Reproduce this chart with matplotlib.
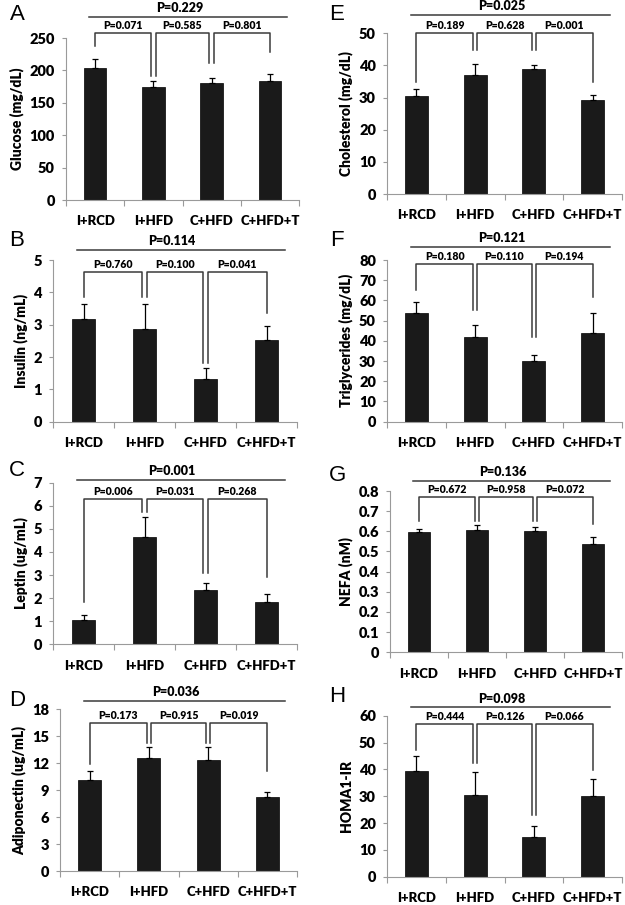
import matplotlib
matplotlib.use("Agg")
import matplotlib.pyplot as plt
from matplotlib.ticker import MultipleLocator, FuncFormatter

plt.rcParams["font.family"] = ["Lato", "DejaVu Sans"]

groups = ["I+RCD", "I+HFD", "C+HFD", "C+HFD+T"]

# means and upper error bars
glucose = [204, 174, 181, 184]
glucose_err = [13, 10, 8, 10]
insulin = [3.17, 2.86, 1.32, 2.53]
insulin_err = [0.46, 0.78, 0.33, 0.43]
leptin = [1.05, 4.63, 2.35, 1.82]
leptin_err = [0.22, 0.90, 0.29, 0.34]
adiponectin = [10.1, 12.6, 12.4, 8.2]
adiponectin_err = [1.0, 1.2, 1.4, 0.55]
cholesterol = [30.4, 36.9, 38.9, 29.1]
cholesterol_err = [2.4, 3.6, 1.3, 1.7]
triglycerides = [53.8, 41.8, 29.8, 43.8]
triglycerides_err = [5.2, 6.1, 3.0, 9.8]
nefa = [0.595, 0.607, 0.603, 0.539]
nefa_err = [0.015, 0.022, 0.016, 0.035]
homa = [39.4, 30.5, 14.9, 30.2]
homa_err = [5.7, 8.6, 4.1, 6.3]

# pairwise p-values (neighbouring groups) and overall p-value
p_glucose = ["0.071", "0.585", "0.801"]
p_insulin = ["0.760", "0.100", "0.041"]
p_leptin = ["0.006", "0.031", "0.268"]
p_adiponectin = ["0.173", "0.915", "0.019"]
p_cholesterol = ["0.189", "0.628", "0.001"]
p_triglycerides = ["0.180", "0.110", "0.194"]
p_nefa = ["0.672", "0.958", "0.072"]
p_homa = ["0.444", "0.126", "0.066"]
p_overall = ["0.229", "0.114", "0.001", "0.036", "0.025", "0.121", "0.136", "0.098"]

W, H = 625, 905


def rect(left, right, top, bottom):
    return [left / W, 1 - bottom / H, (right - left) / W, (bottom - top) / H]


# panel: letter, values, errors, p-values, ylabel, ymax, ystep, bracket top, leg ends, overall line,
# axes rect (px), letter position (px)
panels = [
    ("A", glucose, glucose_err, p_glucose, "Glucose (mg/dL)", 250, 50, 257, [237, 191, 211, 229], 282,
     rect(66, 299, 38, 200), (17, 15)),
    ("B", insulin, insulin_err, p_insulin, "Insulin (ng/mL)", 5, 1, 4.64, [3.87, 3.87, 1.8, 3.35], 5.31,
     rect(53, 297, 260, 421.7), (17, 240)),
    ("C", leptin, leptin_err, p_leptin, "Leptin (ug/mL)", 7, 1, 6.28, [1.85, 5.74, 3.07, 2.93], 7.11,
     rect(53, 297, 482.7, 644.3), (17, 470)),
    ("D", adiponectin, adiponectin_err, p_adiponectin, "Adiponectin (ug/mL)", 18, 3, 16.5,
     [11.9, 14.2, 14.2, 11.1], 18.93, rect(60, 297, 709.3, 871), (17, 700)),
    ("E", cholesterol, cholesterol_err, p_cholesterol, "Cholesterol (mg/dL)", 50, 10, 50,
     [35, 44.8, 44.8, 35], 55.7, rect(387, 622, 33.3, 194), (337, 15)),
    ("F", triglycerides, triglycerides_err, p_triglycerides, "Triglycerides (mg/dL)", 80, 10, 77.9,
     [65.2, 55.3, 42, 61.9], 86.6, rect(387, 622, 260, 421.7), (337, 240)),
    ("G", nefa, nefa_err, p_nefa, "NEFA (nM)", 0.8, 0.1, 0.772, [0.653, 0.653, 0.653, 0.636], 0.851,
     rect(390, 622, 491, 652.3), (337, 475)),
    ("H", homa, homa_err, p_homa, "HOMA1-IR", 60, 10, 56.8, [47.2, 42.2, 23, 39.8], 63.1,
     rect(387, 622, 715.7, 876.7), (337, 697)),
]

fig = plt.figure(figsize=(W / 100, H / 100), dpi=100)
line_col = "#3a3a3a"
axis_col = "#9a9a9a"

for i, (letter, vals, errs, pvals, ylabel, ymax, ystep, top, legs, overall, r, lpos) in enumerate(panels):
    ax = fig.add_axes(r)
    x = list(range(len(groups)))
    ax.bar(x, vals, width=0.39, color="#1a1a1a", edgecolor="black", linewidth=0.5, zorder=2)
    ax.errorbar(x, vals, yerr=[[0] * len(errs), errs], fmt="none", ecolor="black",
                elinewidth=0.9, capsize=2.2, capthick=0.9, zorder=3)

    ax.set_xlim(-0.5, 3.5)
    ax.set_ylim(0, ymax)
    ax.yaxis.set_major_locator(MultipleLocator(ystep))
    ax.yaxis.set_major_formatter(FuncFormatter(lambda v, pos: "%g" % round(v, 3)))
    ax.set_xticks(x)
    ax.set_xticklabels(groups)
    ax.set_xticks([-0.5, 0.5, 1.5, 2.5, 3.5], minor=True)
    ax.tick_params(axis="x", which="major", length=0, pad=11, labelsize=9.5)
    ax.tick_params(axis="x", which="minor", length=4, color=axis_col, width=0.8)
    ax.tick_params(axis="y", length=3, color=axis_col, width=0.8, pad=5, labelsize=10.5)
    for lab in ax.get_xticklabels() + ax.get_yticklabels():
        lab.set_fontweight("heavy")
    for s in ["top", "right"]:
        ax.spines[s].set_visible(False)
    for s in ["left", "bottom"]:
        ax.spines[s].set_color(axis_col)
        ax.spines[s].set_linewidth(0.8)
    ax.set_ylabel(ylabel, fontsize=10, fontweight="heavy", labelpad=4)

    # pairwise brackets
    for j, p in enumerate(pvals):
        x0 = j + (0.04 if j > 0 else 0)
        x1 = j + 1 - (0.04 if j < 2 else 0)
        ax.plot([x0, x0, x1, x1], [legs[j], top, top, legs[j + 1]], color=line_col,
                lw=1.1, clip_on=False, zorder=4)
        ax.annotate("P=" + p, xy=((x0 + x1) / 2, top), xytext=(0, 1.5), textcoords="offset points",
                    ha="center", va="bottom", fontsize=7.6, fontweight="heavy", annotation_clip=False)

    # overall line
    ax.plot([-0.1, 3.3], [overall, overall], color=line_col, lw=1.1, clip_on=False)
    ax.annotate("P=" + p_overall[i], xy=(1.45, overall), xytext=(0, 2), textcoords="offset points",
                ha="center", va="bottom", fontsize=9, fontweight="heavy", annotation_clip=False)

    fig.text(lpos[0] / W, 1 - lpos[1] / H, letter, fontsize=16, ha="center", va="center",
             family=["Liberation Sans", "DejaVu Sans"])

plt.savefig("out.png", dpi=100)
